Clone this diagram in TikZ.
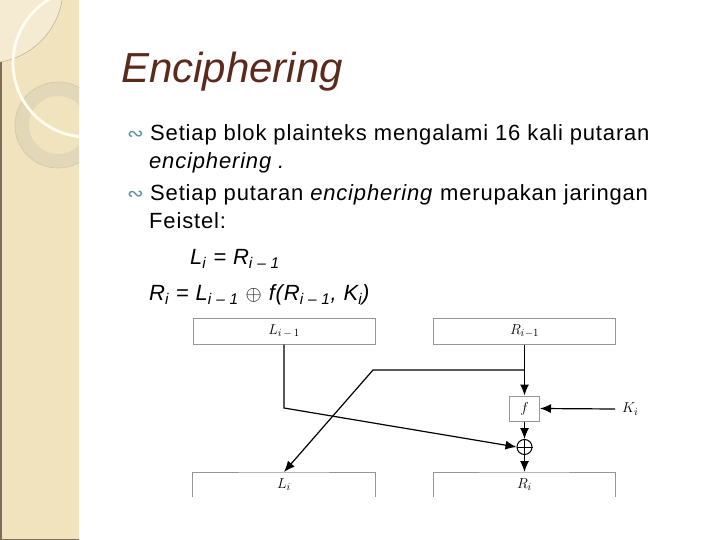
\documentclass[tikz,border=0pt]{standalone}
\usepackage{fontspec}
\setmainfont{Liberation Sans}
\newfontfamily\bulletfont{DejaVu Sans}
\usepackage{tikz}
\usetikzlibrary{arrows.meta,positioning}
\definecolor{titlebrown}{RGB}{92,42,28}
\definecolor{bulletteal}{RGB}{88,150,160}
\definecolor{stripbeige}{RGB}{241,227,190}
\definecolor{stripedge}{RGB}{125,110,85}
\definecolor{ringtan}{RGB}{226,215,185}
\definecolor{arccream}{RGB}{255,252,240}
\definecolor{boxgray}{RGB}{150,150,150}
\newcommand\lowidx[1]{\textsubscript{#1}}
\tikzset{
  slidetext/.style = {anchor=base west, inner sep=0pt, font=\fontsize{22}{26}\selectfont\addfontfeature{LetterSpace=3.8}},
  bulletmark/.style = {anchor=base west, inner sep=0pt, text=bulletteal, font=\bulletfont\fontsize{20}{22}\selectfont},
  blockbox/.style = {draw=boxgray, line width=1pt, minimum width=182pt, minimum height=26pt, inner sep=0pt, font=\fontsize{15}{17}\selectfont},
  openbox/.style = {minimum width=182pt, minimum height=25pt, inner sep=0pt, font=\fontsize{15}{17}\selectfont},
  fbox/.style = {draw=boxgray, line width=1pt, minimum width=30pt, minimum height=25pt, inner sep=0pt, font=\fontsize{15}{17}\selectfont},
  xornode/.style = {circle, draw, line width=1pt, minimum size=15pt, inner sep=0pt},
  flow/.style = {line width=1.2pt, -{Latex[length=11pt,width=9pt]}}
}

\begin{document}
\begin{tikzpicture}[x=1pt,y=-1pt]
  \fill[white] (0,0) rectangle (720,540);
  \useasboundingbox (0,0) rectangle (720,540);
  % side strip
  \fill[stripbeige] (0,0) rectangle (79,540);
  \begin{scope}
    \clip (0,0) rectangle (79,540);
    \fill[stripbeige!70!white] (-12,-12) circle[radius=75pt];
    \draw[stripedge!40!stripbeige, line width=0.6pt] (-12,-12) circle[radius=75pt];
    \fill[ringtan, even odd rule] (58,125) circle[radius=43pt] (58,125) circle[radius=29pt];
    \draw[stripedge!25!stripbeige, line width=0.6pt] (58,125) circle[radius=43pt];
    \draw[arccream, line width=2.8pt] (87,63) circle[radius=74pt];
  \end{scope}
  \draw[stripedge, line width=1.5pt] (0.75,62) -- (0.75,539.25) -- (79,539.25);

  % title and text
  \node[anchor=base west, inner sep=0pt, text=titlebrown, font=\fontsize{42}{48}\selectfont\itshape] (title) at (121,83) {Enciphering};
  \node[bulletmark] (bul1) at (127,141) {∾};
  \node[slidetext] (line1) at (150,141) {Setiap blok plainteks mengalami 16 kali putaran};
  \node[slidetext] (line2) at (149,169) {\itshape enciphering .};
  \node[bulletmark] (bul2) at (127,201) {∾};
  \node[slidetext] (line3) at (150,201) {Setiap putaran \textit{enciphering} merupakan jaringan};
  \node[slidetext] (line4) at (149,229) {Feistel:};
  \node[slidetext] (eqL) at (190,264) {\itshape L\lowidx{i} = R\lowidx{i – 1}};
  \node[slidetext] (eqR) at (149,300) {\itshape R\lowidx{i} = L\lowidx{i – 1} $\oplus$ f(R\lowidx{i – 1}, K\lowidx{i})};

  % Feistel round
  \node[blockbox] (Lprev) at (284,331) {$L_{i\,-\,1}$};
  \node[blockbox] (Rprev) at (524.5,331) {$R_{i-1}$};
  \node[fbox] (fun) at (524.5,408.5) {$f$};
  \node[xornode] (xor) at (524.5,447) {};
  \draw[line width=1pt] (xor.north) -- (xor.south) (xor.west) -- (xor.east);
  \node[anchor=west, inner sep=0pt, font=\fontsize{15}{17}\selectfont] (key) at (622,409) {$K_i$};
  \node[openbox, anchor=north] (Lnext) at (284,472) {$L_i$};
  \node[openbox, anchor=north] (Rnext) at (524.5,472) {$R_i$};
  \draw[boxgray, line width=1pt] (Lnext.south west) |- (Lnext.north) -| (Lnext.south east);
  \draw[boxgray, line width=1pt] (Rnext.south west) |- (Rnext.north) -| (Rnext.south east);

  \coordinate (bend) at (284,408);
  \coordinate (tap) at (524.5,370);
  \coordinate (split) at (373,370);
  \coordinate (keyend) at (615,409);
  \draw[flow] (Rprev.south) -- (fun.north);
  \draw[flow] (tap) -- (split) -- (Lnext.north);
  \draw[flow] (Lprev.south) -- (bend) -- (xor.west);
  \draw[flow] (keyend) -- (fun.east);
  \draw[flow] (fun.south) -- (xor.north);
  \draw[flow] (xor.south) -- (Rnext.north);
\end{tikzpicture}
\end{document}
